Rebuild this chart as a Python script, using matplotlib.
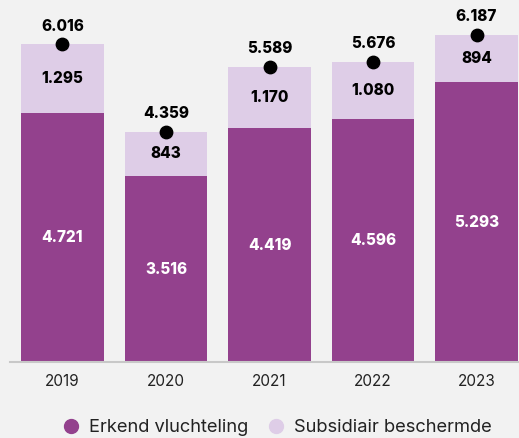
import numpy as np
import matplotlib.pyplot as plt

years = ['2019', '2020', '2021', '2022', '2023']
erkend = [4721, 3516, 4419, 4596, 5293]
subsidiair = [1295, 843, 1170, 1080, 894]
totals = [6016, 4359, 5589, 5676, 6187]

dark = '#93418d'
light = '#decde7'
bg = '#f2f2f2'

plt.rcParams['font.family'] = ['Inter', 'DejaVu Sans']


def fmt(v):
    return f"{v:,}".replace(',', '.')


fig = plt.figure(figsize=(5.19, 4.38), dpi=100, facecolor=bg)
ax = fig.add_axes([10 / 519, 76 / 438, 509 / 519, 362 / 438])
ax.set_facecolor(bg)

x = np.arange(len(years))
ax.bar(x, erkend, width=0.8, color=dark, label='Erkend vluchteling')
ax.bar(x, subsidiair, width=0.8, bottom=erkend, color=light,
       label='Subsidiair beschermde')

lbl = dict(ha='center', va='center', fontsize=11, fontweight='heavy')
for i in range(len(years)):
    ax.text(x[i], erkend[i] / 2, fmt(erkend[i]), color='white', **lbl)
    ax.text(x[i], erkend[i] + subsidiair[i] / 2, fmt(subsidiair[i]),
            color='black', **lbl)
    ax.annotate(fmt(totals[i]), (x[i], totals[i]), xytext=(0, 13),
                textcoords='offset points', color='black',
                annotation_clip=False, **lbl)

ax.scatter(x, totals, s=80, color='black', zorder=5, clip_on=False)

ax.set_xlim(-0.507, 4.41)
ax.set_ylim(0, 6850)
ax.set_xticks(x)
ax.set_xticklabels(years, fontsize=11, color='#222222')
ax.tick_params(axis='x', length=0, pad=9)
ax.set_yticks([])
for s in ['left', 'right', 'top']:
    ax.spines[s].set_visible(False)
ax.spines['bottom'].set_color('#c8c8c8')
ax.spines['bottom'].set_linewidth(1.5)

handles = [
    plt.Line2D([], [], marker='o', ls='', color=dark, markersize=10),
    plt.Line2D([], [], marker='o', ls='', color=light, markersize=10),
]
fig.legend(handles, ['Erkend vluchteling', 'Subsidiair beschermde'],
           loc='center', bbox_to_anchor=(0.525, 0.023), ncol=2, frameon=False,
           fontsize=13.2, handletextpad=0.0, columnspacing=0.5,
           labelcolor='#222222')

fig.savefig('out.png', dpi=100, facecolor=bg)
